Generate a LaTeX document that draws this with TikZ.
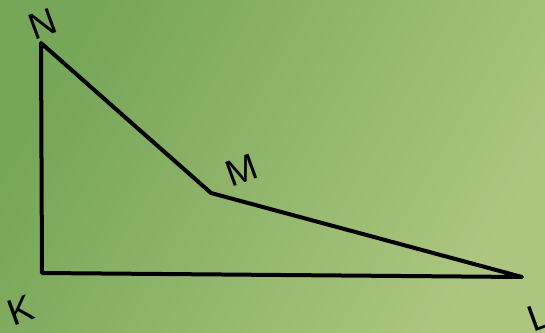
\documentclass[tikz,border=0pt]{standalone}
\usepackage{fontspec}
\setmainfont{Liberation Sans}
\definecolor{bgA}{RGB}{118,166,88}
\definecolor{bgB}{RGB}{172,198,128}
\tikzset{
  edge/.style={line width=4pt, line join=round, line cap=round},
  lbl/.style={font=\fontsize{37}{37}\selectfont, rotate=20, inner sep=0pt}
}
\begin{document}
\begin{tikzpicture}[x=1pt,y=-1pt]
\useasboundingbox (0,0) rectangle (545,332);
\shade[left color=bgA, right color=bgB, shading angle=60] (0,0) rectangle (545,332);
\coordinate (N) at (41,43);
\coordinate (M) at (211,193);
\coordinate (K) at (42,273);
\coordinate (L) at (522,277);
\draw[edge] (N) -- (M) -- (L) -- (K) -- cycle;
\node[lbl] (tN) at (43,24) {N};
\node[lbl] (tM) at (242,170) {M};
\node[lbl] (tK) at (21,310) {K};
\node[lbl] (tL) at (539,317) {L};
\end{tikzpicture}
\end{document}
